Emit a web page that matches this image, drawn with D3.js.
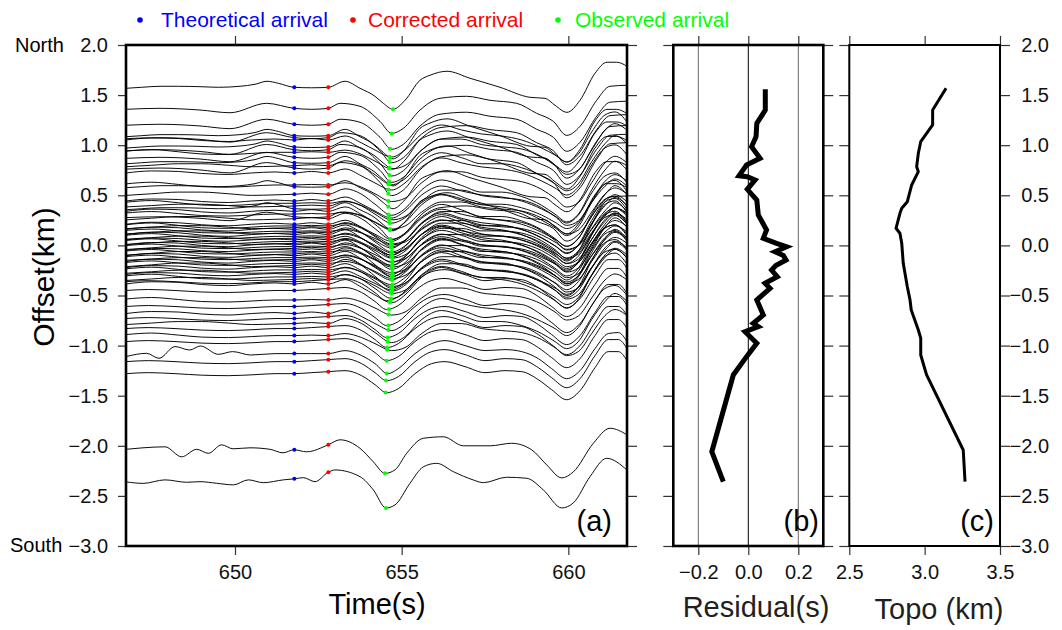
<!DOCTYPE html>
<html>
<head>
<meta charset="utf-8">
<script src="https://cdn.jsdelivr.net/npm/d3@7"></script>
<style>
  body { margin: 0; background: #fff; }
  svg { display: block; }
</style>
</head>
<body>
<script>
// ---- data ----
// waveform shapes (time s, relative offset km)
var n1T = [646.73, 647.2, 647.75, 648.3, 648.95, 649.5, 650.15, 650.6, 650.96, 651.3, 651.77, 652.3, 652.8, 653.3, 653.75, 654.2, 654.45, 654.74, 655.1, 655.55, 655.85, 656.36, 657.05, 657.95, 658.85, 659.3, 659.6, 659.96, 660.35, 660.8, 661.16, 661.45, 661.76];
var n1V = [-0.01, 0.0, 0.01, 0.01, 0.006, 0.0, 0.01, 0.03, 0.06, 0.04, 0.0, -0.005, 0.0, 0.06, -0.01, -0.09, -0.16, -0.22, -0.13, 0.07, 0.12, 0.16, 0.09, 0.0, -0.1, -0.11, -0.18, -0.25, -0.13, 0.14, 0.25, 0.25, 0.21];
var n2T = [646.73, 647.75, 648.95, 649.85, 650.95, 651.77, 652.3, 652.8, 653.15, 653.75, 654.35, 654.7, 655.05, 655.55, 656.15, 656.95, 657.65, 658.45, 659.05, 659.55, 659.95, 660.35, 660.85, 661.25, 661.76];
var n2V = [-0.01, 0.0, -0.017, -0.044, 0.05, 0.0, -0.01, 0.0, 0.05, 0.02, -0.13, -0.25, -0.2, -0.017, 0.1, 0.12, 0.08, 0.05, -0.05, -0.13, -0.27, -0.18, 0.08, 0.22, 0.23];
var mT = [646.73, 647.5, 648.3, 649.0, 649.8, 650.5, 651.2, 651.77, 652.3, 652.8, 653.3, 653.8, 654.2, 654.7, 655.1, 655.6, 656.2, 656.8, 657.4, 658.0, 658.6, 659.2, 659.6, 659.95, 660.3, 660.7, 661.1, 661.4, 661.76];
var m1V = [0.0, 0.02, 0.015, -0.005, -0.015, 0.0, 0.01, 0.0, 0.015, 0.0, 0.04, -0.03, -0.1, -0.17, -0.1, 0.06, 0.15, 0.1, 0.06, 0.04, 0.0, -0.08, -0.15, -0.22, -0.14, 0.08, 0.25, 0.28, 0.18];
var m2V = [0.01, 0.025, 0.005, -0.015, -0.02, -0.01, 0.0, 0.0, 0.005, 0.0, 0.02, -0.02, -0.08, -0.15, -0.12, 0.02, 0.12, 0.12, 0.07, 0.05, 0.03, -0.04, -0.12, -0.2, -0.16, 0.02, 0.2, 0.26, 0.2];
var m3V = [-0.01, 0.005, 0.02, 0.02, 0.005, -0.01, -0.005, 0.0, 0.01, 0.0, 0.05, 0.0, -0.09, -0.19, -0.13, 0.04, 0.13, 0.08, 0.02, 0.02, -0.02, -0.1, -0.18, -0.25, -0.18, 0.04, 0.22, 0.3, 0.22];
var l1T = [646.73, 647.4, 648.2, 649.0, 649.8, 650.6, 651.2, 651.77, 652.3, 652.8, 653.3, 653.8, 654.2, 654.55, 654.9, 655.4, 655.9, 656.3, 656.9, 657.5, 658.1, 658.6, 659.1, 659.5, 659.95, 660.35, 660.8, 661.2, 661.5, 661.76];
var l1V = [0.0, 0.01, 0.0, -0.015, -0.02, -0.01, 0.0, 0.0, 0.01, 0.02, 0.03, -0.02, -0.11, -0.19, -0.15, 0.0, 0.1, 0.12, 0.07, 0.01, 0.03, 0.02, -0.06, -0.16, -0.26, -0.17, 0.06, 0.22, 0.22, 0.13];
var l2T = [646.73, 647.35, 647.72, 648.2, 648.64, 648.96, 649.5, 649.93, 650.47, 651.2, 651.77, 652.3, 652.8, 653.3, 653.8, 654.2, 654.58, 654.9, 655.4, 655.9, 656.3, 656.9, 657.5, 658.1, 658.6, 659.1, 659.5, 659.95, 660.35, 660.8, 661.2, 661.5, 661.76];
var l2V = [-0.03, 0.003, -0.047, 0.07, 0.036, 0.076, -0.007, 0.02, -0.014, 0.0, 0.0, 0.0, 0.0, 0.03, -0.02, -0.1, -0.2, -0.15, 0.0, 0.1, 0.13, 0.08, 0.03, 0.04, 0.02, -0.05, -0.15, -0.25, -0.17, 0.05, 0.2, 0.21, 0.12];
var s1T = [646.73, 647.24, 647.9, 648.4, 648.85, 649.2, 649.6, 649.94, 650.45, 651.05, 651.44, 651.77, 652.15, 652.8, 653.15, 653.75, 654.15, 654.5, 654.8, 655.15, 655.65, 656.25, 656.85, 657.65, 658.3, 658.9, 659.35, 659.8, 660.15, 660.75, 661.25, 661.76];
var s1V = [0.005, 0.02, 0.03, -0.07, 0.005, -0.035, 0.05, 0.01, 0.02, 0.005, -0.03, 0.0, -0.02, 0.05, 0.1, 0.015, -0.12, -0.235, -0.2, -0.035, 0.115, 0.13, 0.04, 0.04, 0.065, 0.0, -0.15, -0.28, -0.22, 0.065, 0.215, 0.15];
var s2T = [646.73, 647.25, 647.9, 648.55, 648.95, 649.45, 649.95, 650.4, 650.85, 651.45, 651.77, 652.05, 652.4, 652.8, 653.0, 653.75, 654.15, 654.53, 654.8, 655.25, 655.65, 656.05, 656.55, 657.15, 657.45, 658.15, 658.75, 659.25, 659.8, 660.15, 660.65, 661.15, 661.76];
var s2V = [-0.03, -0.045, -0.01, -0.034, -0.028, -0.044, -0.06, -0.01, -0.038, -0.01, 0.0, 0.012, -0.028, 0.066, 0.089, 0.022, -0.11, -0.29, -0.26, -0.044, 0.12, 0.155, 0.072, -0.011, -0.038, 0.016, 0.006, -0.11, -0.29, -0.24, 0.022, 0.205, 0.088];

// stations: offset (km), waveform shape, amplitude, observed arrival (s)
var traceOffset = [
  1.578, 1.368, 1.209, 1.095, 1.075, 1.052, 0.982, 0.955, 0.929, 0.879, 0.825, 0.795, 0.772, 0.723, 0.603, 0.586, 0.510,
  0.443, 0.420, 0.393, 0.366, 0.340, 0.313, 0.286, 0.266, 0.211, 0.194, 0.177, 0.160, 0.141, 0.125, 0.108, 0.090, 0.072, 0.055,
  0.038, 0.020, 0.005, -0.012, -0.030, -0.048, -0.066, -0.085, -0.103, -0.122, -0.140, -0.160, -0.180, -0.200, -0.222, -0.245,
  -0.268, -0.290, -0.315, -0.340, -0.362, -0.385,
  -0.45, -0.545, -0.61, -0.68, -0.73, -0.78, -0.83, -0.90, -0.96, -1.08, -1.16, -1.28,
  -2.04, -2.33];
var traceShape = [
  "n1", "n2", "n2", "n1", "n2", "m1", "n1", "n2", "m2", "n2", "n1", "m3", "n2", "m1", "m2", "n1", "m3",
  "m1", "m2", "m3", "n1", "m1", "m2", "n2", "m3", "m1", "m2", "m3", "m1", "m2", "m3", "m1", "m2", "m3", "m1",
  "m2", "m3", "m1", "m2", "m3", "m1", "m2", "m3", "m1", "m2", "m3", "m1", "m2", "m3", "m1", "m2",
  "m3", "m1", "m2", "m3", "l1", "m1",
  "l1", "m2", "l1", "m1", "l1", "m3", "l1", "m2", "l1", "l2", "l1", "l1",
  "s1", "s2"];
var traceAmp = [
  1.0, 1.0, 1.0, 1.05, 1.0, 1.0, 1.0, 1.05, 1.1, 1.0, 1.05, 1.0, 1.1, 1.0, 1.1, 1.0, 1.1,
  1.0, 1.1, 0.9, 1.0, 1.1, 1.0, 0.9, 1.1, 1.0, 1.2, 1.0, 1.1, 0.9, 1.0, 1.2, 1.1, 1.0, 0.9,
  1.1, 1.0, 1.2, 1.0, 1.1, 0.9, 1.0, 1.2, 1.1, 1.0, 0.9, 1.1, 1.0, 1.2, 1.0, 1.1,
  1.0, 0.9, 1.1, 1.0, 1.0, 1.1,
  1.0, 1.0, 1.0, 1.0, 1.0, 1.0, 1.0, 1.0, 1.0, 1.0, 1.0, 1.0,
  1.0, 1.0];
var obsTime = [
  654.74, 654.70, 654.65, 654.65, 654.64, 654.64, 654.63, 654.63, 654.62, 654.62, 654.62, 654.60, 654.60, 654.60, 654.60, 654.60, 654.60,
  654.62, 654.62, 654.64, 654.64, 654.65, 654.65, 654.66, 654.66, 654.68, 654.68, 654.68, 654.70, 654.70, 654.70, 654.70, 654.70, 654.71, 654.71,
  654.72, 654.72, 654.72, 654.72, 654.72, 654.72, 654.72, 654.72, 654.72, 654.72, 654.72, 654.72, 654.72, 654.72, 654.72, 654.71,
  654.70, 654.70, 654.69, 654.68, 654.66, 654.65,
  654.62, 654.60, 654.60, 654.60, 654.58, 654.58, 654.56, 654.56, 654.55, 654.55, 654.53, 654.52,
  654.50, 654.53];
var theoTime = 651.78;
var corrTime = 652.80;

// residual (s) and topography (km) versus offset
var resOffset = [1.558, 1.35, 1.218, 1.085, 0.985, 0.869, 0.802, 0.696, 0.686, 0.653, 0.56, 0.453, 0.303, 0.154, 0.071, 0.021, -0.013, -0.063, -0.1, -0.146, -0.2, -0.246, -0.312, -0.378, -0.428, -0.545, -0.695, -0.778, -0.811, -0.861, -0.977, -1.11, -1.293, -2.059, -2.358];
var resValue = [0.068, 0.068, 0.034, 0.031, 0.013, 0.047, -0.007, -0.037, -0.004, 0.027, -0.004, 0.034, 0.04, 0.073, 0.06, 0.113, 0.153, 0.107, 0.14, 0.151, 0.11, 0.093, 0.116, 0.067, 0.087, 0.034, 0.06, 0.02, 0.04, -0.013, 0.034, -0.007, -0.06, -0.146, -0.1];
var topoOffset = [1.568, 1.351, 1.202, 1.119, 1.035, 0.919, 0.785, 0.736, 0.603, 0.436, 0.37, 0.32, 0.171, 0.121, 0.021, -0.179, -0.412, -0.545, -0.645, -0.844, -0.927, -1.094, -1.293, -2.042, -2.358];
var topoValue = [3.142, 3.053, 3.053, 3.013, 2.974, 2.958, 2.947, 2.958, 2.914, 2.885, 2.848, 2.836, 2.81, 2.836, 2.848, 2.858, 2.885, 2.903, 2.911, 2.958, 2.974, 2.974, 3.013, 3.256, 3.268];

var offsetTicks = [-3, -2.5, -2, -1.5, -1, -0.5, 0, 0.5, 1, 1.5, 2];
var timeTicks = [650, 655, 660];
var resTicks = [-0.2, 0, 0.2];
var topoTicks = [2.5, 3, 3.5];
var legendItems = ["Theoretical arrival", "Corrected arrival", "Observed arrival"];
var legendColors = ["#0000ff", "#ff0000", "#00ff00"];

// ---- drawing ----
var FONT = "'Liberation Sans', Arial, Helvetica, sans-serif";
var shapes = {
    n1: [n1T, n1V], n2: [n2T, n2V],
    m1: [mT, m1V], m2: [mT, m2V], m3: [mT, m3V],
    l1: [l1T, l1V], l2: [l2T, l2V],
    s1: [s1T, s1V], s2: [s2T, s2V]
};

var svg = d3.select("body").append("svg")
    .attr("width", 1062)
    .attr("height", 630)
    .style("font-family", FONT);

var yScale = d3.scaleLinear().domain([-3, 2]).range([546, 45]);
var xTime = d3.scaleLinear().domain([646.73, 661.76]).range([126, 627]);
var xRes = d3.scaleLinear().domain([-0.3, 0.3]).range([673.3, 823.3]);
var xTopo = d3.scaleLinear().domain([2.5, 3.5]).range([849.3, 1000]);
var fmt = d3.format(".1f");

function styleAxis(g, size) {
    g.select(".domain").remove();
    g.attr("font-family", FONT).attr("font-size", size);
    g.selectAll(".tick line").attr("stroke", "#333").attr("stroke-width", 1.2);
    g.selectAll(".tick text").attr("fill", "#111");
}

function fmtX(ticks) {
    return ticks[0] > 100 ? d3.format("d") : fmt;
}

// frames + ticks for the three panels
function panelAxes(x, ticksX, labelY, frameW) {
    var x0 = x.range()[0], x1 = x.range()[1];
    svg.append("g").attr("transform", `translate(${x0},0)`)
        .call(d3.axisLeft(yScale).tickValues(offsetTicks).tickSize(labelY === "left" ? 8 : 10)
            .tickPadding(10).tickFormat(labelY === "left" ? fmt : ""))
        .call(styleAxis, 20);
    var right = svg.append("g").attr("transform", `translate(${x1},0)`)
        .call(d3.axisRight(yScale).tickValues(offsetTicks).tickSize(10)
            .tickFormat(labelY === "right" ? fmt : ""))
        .call(styleAxis, 20);
    if (labelY === "right") {
        right.selectAll(".tick text").attr("text-anchor", "end").attr("x", 49);
    }
    svg.append("g").attr("transform", "translate(0,45)")
        .call(d3.axisTop(x).tickValues(ticksX).tickSize(9).tickFormat(""))
        .call(styleAxis, 20);
    svg.append("g").attr("transform", "translate(0,546)")
        .call(d3.axisBottom(x).tickValues(ticksX).tickSize(9).tickPadding(10).tickFormat(fmtX(ticksX)))
        .call(styleAxis, 20);
    return function () {
        svg.append("rect")
            .attr("x", x0).attr("y", 45)
            .attr("width", x1 - x0).attr("height", 501)
            .attr("fill", "none").attr("stroke", "#000").attr("stroke-width", frameW);
    };
}

var frameA = panelAxes(xTime, timeTicks, "left", 2.6);
var frameB = panelAxes(xRes, resTicks, "none", 2.6);
var frameC = panelAxes(xTopo, topoTicks, "right", 2);

// panel (a): seismic traces
svg.append("clipPath").attr("id", "clipA")
    .append("rect").attr("x", 126).attr("y", 45).attr("width", 501).attr("height", 501);

var traceLine = d3.line()
    .x(function (d) { return xTime(d[0]); })
    .y(function (d) { return yScale(d[1]); })
    .curve(d3.curveMonotoneX);

var traceG = svg.append("g").attr("clip-path", "url(#clipA)");
var paths = [];
traceOffset.forEach(function (off, i) {
    var sh = shapes[traceShape[i]];
    var pts = sh[0].map(function (t, k) { return [t, off + traceAmp[i] * sh[1][k]]; });
    var p = traceG.append("path")
        .attr("d", traceLine(pts))
        .attr("fill", "none")
        .attr("stroke", "#000")
        .attr("stroke-width", 0.95);
    paths.push(p.node());
});

// y on a trace path at a given time
function yAt(node, t) {
    var px = xTime(t);
    var lo = 0, hi = node.getTotalLength();
    for (var k = 0; k < 28; k++) {
        var mid = (lo + hi) / 2;
        if (node.getPointAtLength(mid).x < px) lo = mid; else hi = mid;
    }
    return node.getPointAtLength(lo).y;
}

var dotG = svg.append("g");
paths.forEach(function (node, i) {
    [[theoTime, legendColors[0]], [corrTime, legendColors[1]], [obsTime[i], legendColors[2]]].forEach(function (d) {
        dotG.append("circle")
            .attr("cx", xTime(d[0]))
            .attr("cy", yAt(node, d[0]))
            .attr("r", 2)
            .attr("fill", d[1]);
    });
});

// panel (b): residuals
svg.append("g").selectAll("line").data(resTicks).join("line")
    .attr("x1", function (d) { return xRes(d); })
    .attr("x2", function (d) { return xRes(d); })
    .attr("y1", 45).attr("y2", 546)
    .attr("stroke", function (d) { return d === 0 ? "#000" : "#666"; })
    .attr("stroke-width", 1);

svg.append("path")
    .datum(resOffset.map(function (o, i) { return [resValue[i], o]; }))
    .attr("d", d3.line()
        .x(function (d) { return xRes(d[0]); })
        .y(function (d) { return yScale(d[1]); }))
    .attr("fill", "none")
    .attr("stroke", "#000")
    .attr("stroke-width", 5)
    .attr("stroke-linejoin", "miter")
    .attr("stroke-miterlimit", 6);

// panel (c): topography
svg.append("path")
    .datum(topoOffset.map(function (o, i) { return [topoValue[i], o]; }))
    .attr("d", d3.line()
        .x(function (d) { return xTopo(d[0]); })
        .y(function (d) { return yScale(d[1]); }))
    .attr("fill", "none")
    .attr("stroke", "#000")
    .attr("stroke-width", 3)
    .attr("stroke-linejoin", "round");

frameA();
frameB();
frameC();

// labels
svg.append("text").attr("x", 15).attr("y", 52).attr("font-size", 20).text("North");
svg.append("text").attr("x", 10).attr("y", 552).attr("font-size", 20).text("South");

svg.append("text")
    .attr("transform", "translate(54,277) rotate(-90)")
    .attr("text-anchor", "middle").attr("font-size", 30)
    .text("Offset(km)");

svg.append("text").attr("x", 377).attr("y", 614).attr("text-anchor", "middle")
    .attr("font-size", 29).text("Time(s)");
svg.append("text").attr("x", 756).attr("y", 617).attr("text-anchor", "middle")
    .attr("font-size", 29).attr("fill", "#231f20").text("Residual(s)");
svg.append("text").attr("x", 939).attr("y", 619).attr("text-anchor", "middle")
    .attr("font-size", 29).attr("fill", "#231f20").text("Topo (km)");

[["(a)", 612], ["(b)", 819], ["(c)", 994]].forEach(function (d) {
    svg.append("text").attr("x", d[1]).attr("y", 531).attr("text-anchor", "end")
        .attr("font-size", 29).text(d[0]);
});

// legend
var legendX = [140, 353, 558];
var legendTextX = [161, 368, 575];
legendItems.forEach(function (name, i) {
    svg.append("circle").attr("cx", legendX[i]).attr("cy", 20).attr("r", 2.8).attr("fill", legendColors[i]);
    svg.append("text").attr("x", legendTextX[i]).attr("y", 27)
        .attr("font-size", 21).attr("fill", legendColors[i]).text(name);
});
</script>
</body>
</html>
